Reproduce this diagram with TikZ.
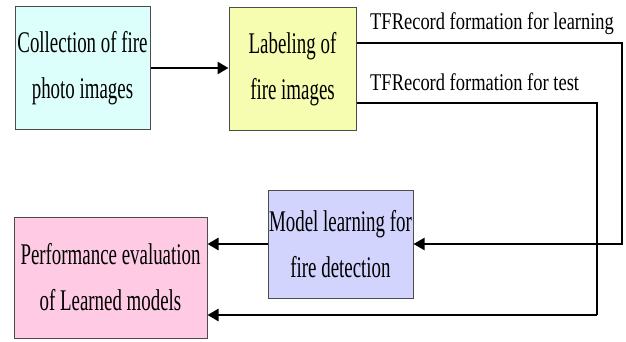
\documentclass[tikz,border=0pt]{standalone}
\usepackage{fontspec}
\setmainfont{Liberation Serif}[FakeStretch=0.63]
\newfontfamily\tagfont{Liberation Serif}[FakeStretch=0.77]
\usetikzlibrary{arrows.meta}

\definecolor{cyanbox}{HTML}{DDFFFB}
\definecolor{yellowbox}{HTML}{F6FDB0}
\definecolor{bluebox}{HTML}{D2D4FE}
\definecolor{pinkbox}{HTML}{FECAE4}

\tikzset{
  box/.style={draw=black!70, line width=1pt, align=center,
    font=\fontsize{30}{46}\selectfont, inner sep=0pt},
  link/.style={draw=black, line width=2pt},
  flow/.style={link, line width=2.6pt, -{Triangle[length=11pt,width=12pt]}},
  tag/.style={font=\tagfont\fontsize{24}{28}\selectfont, inner sep=0pt, anchor=base west}
}

\begin{document}
\begin{tikzpicture}[x=1pt,y=1pt]
\useasboundingbox (0,0) rectangle (626,341);

% process steps
\node[box, fill=cyanbox, minimum width=135pt, minimum height=122pt] (collect) at (82.5,273) {Collection of fire\\photo images};
\node[box, fill=yellowbox, minimum width=127pt, minimum height=122pt] (labeling) at (292.5,272) {Labeling of\\fire images};
\node[box, fill=bluebox, minimum width=145pt, minimum height=108pt] (model) at (340.5,97) {Model learning for\\fire detection};
\node[box, fill=pinkbox, minimum width=193pt, minimum height=121pt] (perf) at (110.5,63.5) {Performance evaluation\\of Learned models};

% route corners
\coordinate (r1) at (622,298);
\coordinate (r2) at (597,238);
\coordinate (r3) at (597,26);

% connectors
\draw[flow] (collect.east) -- (collect.east -| labeling.west);
\draw[link, -{Triangle[length=11pt,width=12pt]}] (labeling.east |- r1) -- (r1) |- (model.east);
\draw[link] (labeling.east |- r2) -- (r2) -- (r3);
\draw[flow] (r3) -- (perf.east |- r3);
\draw[flow] (model.west) -- (model.west -| perf.east);

% connector captions
\node[tag] (tlearn) at (370,312) {TFRecord formation for learning};
\node[tag] (ttest) at (370,251) {TFRecord formation for test};
\end{tikzpicture}
\end{document}
